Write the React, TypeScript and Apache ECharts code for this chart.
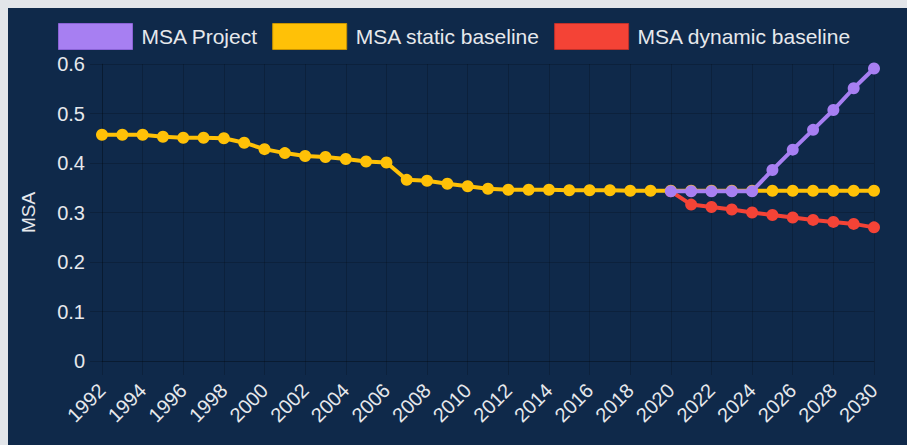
import React, { useEffect, useRef } from "react";
import * as echarts from "echarts";

const years: string[] = [];
for (let y = 1992; y <= 2030; y++) years.push(String(y));

const staticBaseline = [
  0.457, 0.457, 0.457, 0.453, 0.451, 0.451, 0.45, 0.441, 0.428, 0.42,
  0.414, 0.412, 0.408, 0.403, 0.401, 0.366, 0.364, 0.358, 0.353, 0.348,
  0.346, 0.346, 0.346, 0.345, 0.345, 0.345, 0.344, 0.344, 0.344, 0.344,
  0.344, 0.344, 0.344, 0.344, 0.344, 0.344, 0.344, 0.344, 0.344,
];

const projectValues = [
  null, null, null, null, null, null, null, null, null, null,
  null, null, null, null, null, null, null, null, null, null,
  null, null, null, null, null, null, null, null, 0.343, 0.343,
  0.343, 0.343, 0.343, 0.386, 0.427, 0.467, 0.507, 0.551, 0.591,
];

const dynamicBaseline = [
  null, null, null, null, null, null, null, null, null, null,
  null, null, null, null, null, null, null, null, null, null,
  null, null, null, null, null, null, null, null, 0.343, 0.316,
  0.311, 0.306, 0.3, 0.295, 0.29, 0.285, 0.281, 0.277, 0.27,
];

const FONT = '"Liberation Sans", Arial, Helvetica, sans-serif';
const TEXT = "#e6e8ec";
const GRID = "rgba(0,0,0,0.18)";

const PURPLE = "#a77ff2";
const YELLOW = "#ffc107";
const RED = "#f44336";

export default function App() {
  const ref = useRef<HTMLDivElement>(null);
  useEffect(() => {
    if (!ref.current) return;
    const chart = echarts.init(ref.current, undefined, { renderer: "svg" });
    const lineSeries = (name: string, data: any[], color: string, z: number) => ({
      name,
      type: "line",
      data,
      z,
      symbol: "circle",
      symbolSize: 12,
      showSymbol: true,
      connectNulls: false,
      lineStyle: { color, width: 4 },
      itemStyle: { color },
      emphasis: { disabled: true },
    });
    chart.setOption({
      animation: false,
      backgroundColor: "transparent",
      textStyle: { fontFamily: FONT },
      legend: {
        top: 10,
        left: 45,
        icon: "rect",
        itemWidth: 74,
        itemHeight: 26,
        itemGap: 14,
        textStyle: { color: TEXT, fontSize: 21, fontFamily: FONT, padding: [0, 0, 0, 4] },
        data: [
          { name: "MSA Project", itemStyle: { borderColor: "#8a62d6", borderWidth: 1 } },
          { name: "MSA static baseline", itemStyle: { borderColor: "#c99400", borderWidth: 1 } },
          { name: "MSA dynamic baseline", itemStyle: { borderColor: "#c0302a", borderWidth: 1 } },
        ],
      },
      grid: { left: 94, right: 33, top: 56, bottom: 84, containLabel: false },
      xAxis: {
        type: "category",
        data: years,
        boundaryGap: false,
        axisLine: { show: true, lineStyle: { color: GRID } },
        axisTick: { show: true, interval: 1, length: 14, lineStyle: { color: GRID } },
        splitLine: { show: true, interval: 1, lineStyle: { color: GRID } },
        axisLabel: {
          interval: 1,
          rotate: 45,
          color: TEXT,
          fontSize: 20,
          fontFamily: FONT,
          margin: 26,
        },
      },
      yAxis: {
        type: "value",
        min: 0,
        max: 0.6,
        interval: 0.1,
        name: "MSA",
        nameLocation: "middle",
        nameRotate: 90,
        nameGap: 64,
        nameTextStyle: { color: TEXT, fontSize: 19, fontFamily: FONT },
        axisLine: { show: true, lineStyle: { color: GRID } },
        axisTick: { show: true, length: 12, lineStyle: { color: GRID } },
        splitLine: { show: true, lineStyle: { color: GRID } },
        axisLabel: { color: TEXT, fontSize: 20, fontFamily: FONT, margin: 17 },
      },
      series: [
        lineSeries("MSA dynamic baseline", dynamicBaseline, RED, 2),
        lineSeries("MSA static baseline", staticBaseline, YELLOW, 3),
        lineSeries("MSA Project", projectValues, PURPLE, 4),
      ],
    });
    return () => chart.dispose();
  }, []);
  return (
    <div style={{ position: "fixed", inset: 0, background: "#e2e5e9" }}>
      <div
        style={{
          position: "absolute",
          left: 8,
          top: 8,
          width: 899,
          height: 437,
          background: "#0f294a",
        }}
      >
        <div ref={ref} style={{ width: 899, height: 437 }} />
      </div>
    </div>
  );
}
